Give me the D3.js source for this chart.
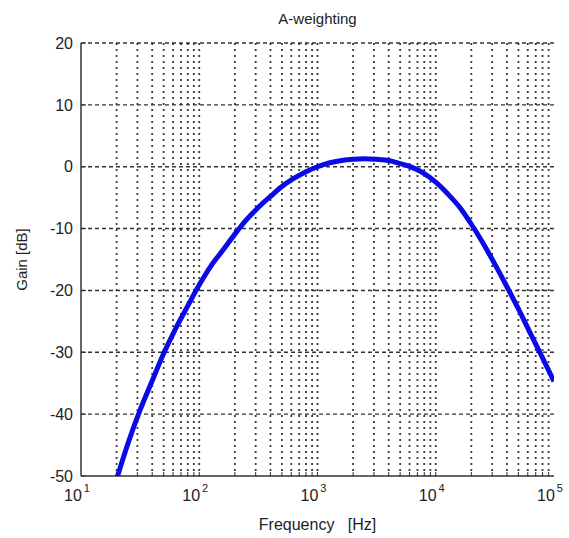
<!DOCTYPE html>
<html>
<head>
<meta charset="utf-8">
<script src="https://cdn.jsdelivr.net/npm/d3@7"></script>
<style>
  body { margin: 0; background: #fff; }
  svg text { font-family: "Liberation Sans", Arial, sans-serif; fill: #222; }
</style>
</head>
<body>
<div id="chart"></div>
<script>
// A-weighting curve
var freqs = [20, 25, 31.5, 40, 50, 63, 80, 100, 125, 160, 200, 250, 315, 400, 500, 630, 800,
             1000, 1250, 1600, 2000, 2500, 3150, 4000, 5000, 6300, 8000, 10000, 12500, 16000,
             20000, 25000, 31500, 40000, 50000, 63000, 80000, 100000];
var gains = [-50.5, -44.7, -39.4, -34.6, -30.2, -26.2, -22.5, -19.1, -16.1, -13.4, -10.9, -8.6, -6.6,
             -4.8, -3.2, -1.9, -0.8, 0, 0.6, 1.0, 1.2, 1.3, 1.2, 1.0, 0.5, -0.1, -1.1, -2.5, -4.3, -6.6,
             -9.3, -12.3, -15.7, -19.4, -23.0, -26.9, -30.9, -34.7];
var yTicks = [20, 10, 0, -10, -20, -30, -40, -50];
var xExponents = [1, 2, 3, 4, 5];

var width = 569, height = 538;
var margin = {top: 43, right: 15, bottom: 62, left: 81};

var svg = d3.select("#chart")
  .append("svg")
  .attr("width", width)
  .attr("height", height);

var x = d3.scaleLog()
  .domain([10, 100000])
  .range([margin.left, width - margin.right]);

var y = d3.scaleLinear()
  .domain([-50, 20])
  .range([height - margin.bottom, margin.top]);

// minor log positions 2..9 and decades
var minorX = [];
xExponents.slice(0, -1).forEach(function(e){
  for (var m = 2; m <= 9; m++) minorX.push(m * Math.pow(10, e));
});
var decadeX = [100, 1000, 10000];

var grid = svg.append("g").attr("class", "grid");

grid.selectAll(".vgrid")
  .data(minorX.concat(decadeX)).enter().append("line")
    .attr("x1", function(d){ return x(d); })
    .attr("x2", function(d){ return x(d); })
    .attr("y1", y(20))
    .attr("y2", y(-50))
    .attr("stroke", "#3a3a3a")
    .attr("stroke-width", 1.8)
    .attr("stroke-dasharray", "2,4");

grid.selectAll(".hgrid")
  .data(yTicks.filter(function(d){ return d > -50; })).enter().append("line")
    .attr("x1", x(10))
    .attr("x2", x(100000))
    .attr("y1", function(d){ return y(d); })
    .attr("y2", function(d){ return y(d); })
    .attr("stroke", "#333")
    .attr("stroke-width", 1.4)
    .attr("stroke-dasharray", "4,3");

// axes (left and bottom only)
var axisColor = "#333";
svg.append("line")
  .attr("x1", x(10)).attr("x2", x(10))
  .attr("y1", y(20)).attr("y2", y(-50))
  .attr("stroke", axisColor).attr("stroke-width", 1.5);
svg.append("line")
  .attr("x1", x(10)).attr("x2", x(100000))
  .attr("y1", y(-50)).attr("y2", y(-50))
  .attr("stroke", axisColor).attr("stroke-width", 1.5);

// inward ticks
svg.selectAll(".ytick")
  .data(yTicks).enter().append("line")
    .attr("x1", x(10)).attr("x2", x(10) + 5)
    .attr("y1", function(d){ return y(d); })
    .attr("y2", function(d){ return y(d); })
    .attr("stroke", axisColor);
svg.selectAll(".xtick")
  .data(minorX.concat(decadeX)).enter().append("line")
    .attr("x1", function(d){ return x(d); })
    .attr("x2", function(d){ return x(d); })
    .attr("y1", y(-50)).attr("y2", y(-50) - 4)
    .attr("stroke", axisColor);

// y tick labels
svg.selectAll(".ylabel")
  .data(yTicks).enter().append("text")
    .attr("x", x(10) - 8)
    .attr("y", function(d){ return y(d); })
    .attr("dy", "0.36em")
    .attr("text-anchor", "end")
    .attr("font-size", 16)
    .text(function(d){ return d; });

// x tick labels: 10 with superscript
var xl = svg.selectAll(".xlabel")
  .data(xExponents).enter().append("text")
    .attr("x", function(d){ return x(Math.pow(10, d)) - 4; })
    .attr("y", y(-50) + 25)
    .attr("text-anchor", "middle")
    .attr("font-size", 16);
xl.append("tspan").text("10");
xl.append("tspan")
  .attr("dx", 2)
  .attr("dy", -9)
  .attr("font-size", 11)
  .text(function(d){ return d; });

// title and axis labels
svg.append("text")
  .attr("x", (x(10) + x(100000)) / 2)
  .attr("y", 24)
  .attr("text-anchor", "middle")
  .attr("font-size", 15)
  .text("A-weighting");

svg.append("text")
  .attr("x", (x(10) + x(100000)) / 2)
  .attr("y", 530)
  .attr("text-anchor", "middle")
  .attr("font-size", 16)
  .attr("xml:space", "preserve")
  .text("Frequency   [Hz]");

svg.append("text")
  .attr("transform", "translate(27," + ((y(20) + y(-50)) / 2) + ") rotate(-90)")
  .attr("text-anchor", "middle")
  .attr("font-size", 15)
  .text("Gain [dB]");

// curve, clipped to plot box
svg.append("clipPath").attr("id", "plotclip")
  .append("rect")
    .attr("x", x(10)).attr("y", y(20))
    .attr("width", x(100000) - x(10))
    .attr("height", y(-50) - y(20));

var line = d3.line()
  .curve(d3.curveMonotoneX)
  .x(function(d, i){ return x(freqs[i]); })
  .y(function(d){ return y(d); });

svg.append("path")
  .datum(gains)
  .attr("clip-path", "url(#plotclip)")
  .attr("d", line)
  .attr("fill", "none")
  .attr("stroke", "#0a0ae6")
  .attr("stroke-width", 5)
  .attr("stroke-linejoin", "round");
</script>
</body>
</html>
